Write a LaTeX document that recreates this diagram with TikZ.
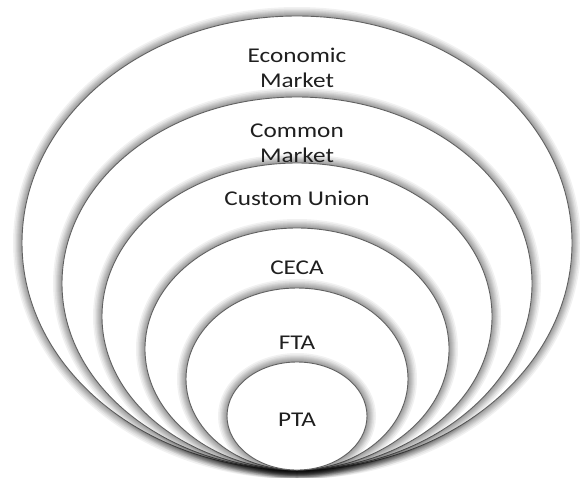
\documentclass[tikz,border=0pt]{standalone}
\usepackage{fontspec}
\setmainfont{Carlito}[FakeStretch=1.2]
\begin{document}
\begin{tikzpicture}[x=1pt,y=-1pt,
  glow/.style={draw=black, draw opacity=0.055},
  ring/.style={draw=black!62, line width=0.9pt, fill=white},
  label/.style={font=\fontsize{21}{25}\selectfont, align=center, text=black!88}]
  \useasboundingbox (0,0) rectangle (580,477);
  \fill[white] (0,0) rectangle (580,477);
  % nested rings, all resting on the same bottom point;
  % each ring gets a soft halo (stacked wide strokes) before its white fill
  \foreach \cx/\cy/\rx/\ry in {297/243/275/227, 297/283.5/235/186.5,
      297/316.5/195/153.5, 297/349/152/121, 297/379/111/91, 297/416/70/54}{
    \foreach \w in {18,15,12,10,8,6,4,2}{
      \path[glow, line width=\w pt] (\cx,\cy) ellipse [x radius=\rx, y radius=\ry];
    }
    \path[ring] (\cx,\cy) ellipse [x radius=\rx, y radius=\ry];
  }
  % ring labels
  \node[label] (em) at (297,68) {Economic\\Market};
  \node[label] (cm) at (297,143) {Common\\Market};
  \node[label] (cu) at (297,198) {Custom Union};
  \node[label] (ceca) at (297,268) {CECA};
  \node[label] (fta) at (297,343) {FTA};
  \node[label] (pta) at (297,420) {PTA};
\end{tikzpicture}
\end{document}
